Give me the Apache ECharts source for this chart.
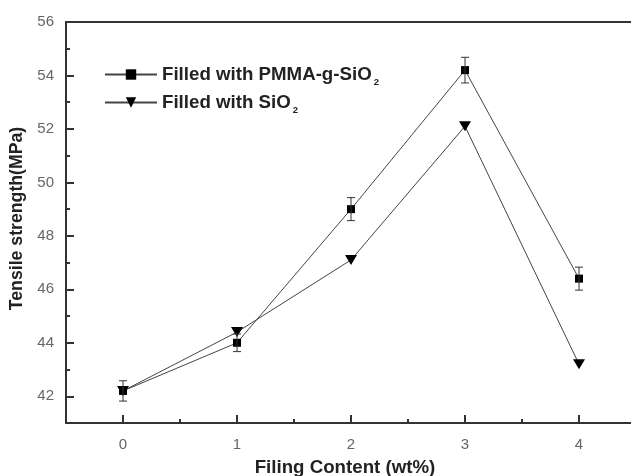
<!DOCTYPE html>
<html><head><meta charset="utf-8">
<script src="https://cdn.jsdelivr.net/npm/echarts@6/dist/echarts.min.js"></script>
<style>html,body{margin:0;padding:0;background:#fff}#c{width:631px;height:476px}</style>
</head><body><div id="c"></div>
<script>
const xValues = [0, 1, 2, 3, 4];
const pmmaValues = [42.2, 44.0, 49.0, 54.2, 46.4];
const pmmaErrors = [0.38, 0.33, 0.43, 0.48, 0.43];
const sio2Values = [42.2, 44.4, 47.1, 52.1, 43.2];
const xTickLabels = [0, 1, 2, 3, 4];
const xMinorTicks = [0.5, 1.5, 2.5, 3.5];
const yTickLabels = [42, 44, 46, 48, 50, 52, 54, 56];
const yMinorTicks = [41, 43, 45, 47, 49, 51, 53, 55];
const seriesNames = ['Filled with PMMA-g-SiO2', 'Filled with SiO2'];

const chart = echarts.init(document.getElementById('c'), null, {renderer: 'canvas'});
const font = 'Liberation Sans, Arial, sans-serif';
const axisColor = '#333';
const labelColor = '#666';

const pmmaData = xValues.map((x, i) => [x, pmmaValues[i]]);
const sio2Data = xValues.map((x, i) => [x, sio2Values[i]]);
const errData = xValues.map((x, i) => [x, pmmaValues[i] - pmmaErrors[i], pmmaValues[i] + pmmaErrors[i]]);

const triPath = 'path://M0,0 L10,0 L5,9 Z';

chart.setOption({
  animation: false,
  backgroundColor: '#fff',
  textStyle: {fontFamily: font},
  grid: {left: 66, top: 22, width: 570, height: 401, outerBoundsMode: 'none', containLabel: false},
  legend: {
    orient: 'vertical', left: 104, top: 64, itemGap: 5, padding: 0,
    itemWidth: 52, itemHeight: 13,
    data: seriesNames,
    textStyle: {fontFamily: font, fontSize: 18.7, fontWeight: 'bold', color: '#222', lineHeight: 21,
      rich: {sub: {fontFamily: font, fontSize: 9.5, fontWeight: 'bold', color: '#222', padding: [15, 0, 0, 2]}}},
    formatter: n => n.replace(/2$/, '{sub|2}')
  },
  xAxis: [{
    type: 'value', min: -0.5, max: 4.5, position: 'bottom',
    name: 'Filing Content (wt%)', nameLocation: 'middle', nameGap: 35,
    nameTextStyle: {fontFamily: font, fontSize: 18.7, fontWeight: 'bold', color: '#222', padding: [0, 12, 0, 0]},
    axisLine: {show: true, onZero: false, lineStyle: {color: axisColor, width: 2}},
    axisTick: {show: true, inside: true, length: 8, customValues: xTickLabels, lineStyle: {color: axisColor, width: 2}},
    axisLabel: {customValues: xTickLabels, fontSize: 15, color: labelColor, margin: 14, fontFamily: font},
    splitLine: {show: false}
  }, {
    type: 'value', min: -0.5, max: 4.5, position: 'bottom',
    axisLine: {show: false, onZero: false},
    axisTick: {show: true, inside: true, length: 4, customValues: xMinorTicks, lineStyle: {color: axisColor, width: 2}},
    axisLabel: {show: false}, splitLine: {show: false}
  }, {
    type: 'value', min: -0.5, max: 4.5, position: 'top',
    axisLine: {show: true, onZero: false, lineStyle: {color: axisColor, width: 2}},
    axisTick: {show: false}, axisLabel: {show: false}, splitLine: {show: false}
  }],
  yAxis: [{
    type: 'value', min: 41, max: 56, position: 'left',
    name: 'Tensile strength(MPa)', nameLocation: 'middle', nameGap: 38, nameRotate: 90,
    nameTextStyle: {fontFamily: font, fontSize: 17.7, fontWeight: 'bold', color: '#222', padding: [0, 0, 0, 8]},
    axisLine: {show: true, onZero: false, lineStyle: {color: axisColor, width: 2}},
    axisTick: {show: true, inside: true, length: 8, customValues: yTickLabels, lineStyle: {color: axisColor, width: 2}},
    axisLabel: {customValues: yTickLabels, fontSize: 15, color: labelColor, margin: 12, fontFamily: font},
    splitLine: {show: false}
  }, {
    type: 'value', min: 41, max: 56, position: 'left',
    axisLine: {show: false, onZero: false},
    axisTick: {show: true, inside: true, length: 4, customValues: yMinorTicks, lineStyle: {color: axisColor, width: 2}},
    axisLabel: {show: false}, splitLine: {show: false}
  }],
  series: [{
    name: seriesNames[0], type: 'line', data: pmmaData,
    symbol: 'rect', symbolSize: [8, 8],
    lineStyle: {color: '#444', width: 1},
    itemStyle: {color: '#000'},
    z: 3
  }, {
    name: seriesNames[1], type: 'line', data: sio2Data,
    symbol: triPath, symbolSize: [12, 10],
    lineStyle: {color: '#444', width: 1},
    itemStyle: {color: '#000'},
    z: 3
  }, {
    type: 'custom', name: 'err', data: errData, z: 4,
    renderItem: function (params, api) {
      const x = api.value(0);
      const top = api.coord([x, api.value(2)]);
      const bot = api.coord([x, api.value(1)]);
      const w = 4;
      const st = {stroke: '#333', lineWidth: 1};
      return {type: 'group', children: [
        {type: 'line', shape: {x1: top[0], y1: top[1], x2: bot[0], y2: bot[1]}, style: st},
        {type: 'line', shape: {x1: top[0] - w, y1: top[1], x2: top[0] + w, y2: top[1]}, style: st},
        {type: 'line', shape: {x1: bot[0] - w, y1: bot[1], x2: bot[0] + w, y2: bot[1]}, style: st}
      ]};
    },
    encode: {x: 0, y: [1, 2]}
  }]
});
</script></body></html>
